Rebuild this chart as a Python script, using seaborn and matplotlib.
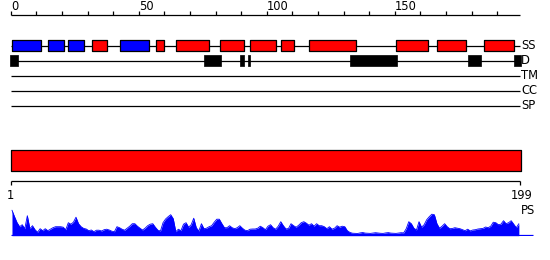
import numpy as np
import pandas as pd
import matplotlib
matplotlib.use("Agg")
import matplotlib.pyplot as plt
import seaborn as sns

# ---------------- data ----------------
seq_len = 199
ruler_ticks = list(range(0, 200, 10))
ruler_labels = {0: "0", 50: "50", 100: "100", 150: "150"}

# secondary structure boxes (positions on the ruler scale)
ss_start = [0.6, 14.7, 22.5, 31.9, 42.8, 56.9, 64.7, 81.9, 93.6, 105.7, 116.6, 150.6, 166.7, 185.0]
ss_end = [11.7, 20.7, 28.8, 37.7, 53.9, 59.8, 77.6, 91.0, 103.8, 110.8, 134.8, 162.9, 178.0, 196.7]
ss_kind = ["E", "E", "E", "H", "E", "H", "H", "H", "H", "H", "H", "H", "H", "H"]

# disorder boxes
dis_start = [-0.3, 75.5, 89.6, 92.6, 132.5, 178.6, 196.6]
dis_end = [2.7, 82.0, 91.0, 93.6, 150.8, 183.9, 199.2]

track_names = ["SS", "D", "TM", "CC", "SP"]

domain_start = [1]
domain_end = [199]

ps_values = [
    25.5, 19, 13, 9, 11, 7, 20, 7, 10, 6, 3.5, 7, 5, 7, 5, 6.5, 8, 9, 9, 9,
    8.5, 6, 13, 11.5, 13.5, 18.5, 12, 9, 7.3, 6.7, 5, 5.7, 4, 5.5, 5.5, 4.7, 6, 6.5, 5.7, 4.5,
    4, 9, 8, 6.5, 5.5, 7.5, 9.5, 12, 12, 9.5, 7.5, 5.7, 7.5, 10, 11.5, 12, 8.5, 5.5, 4.7, 13,
    16.7, 19, 21, 17, 4, 6.5, 5, 11.5, 13, 8.5, 11, 17.5, 8, 4.7, 12, 7, 7.5, 9, 10, 13.5,
    16.5, 16.5, 12, 8, 8, 10, 8, 7, 8, 10, 7.5, 5.5, 5, 6.5, 6.7, 6.7, 7.5, 9.5, 8, 6,
    9.5, 11, 8, 6.5, 9.5, 14, 10, 6.8, 7.2, 12, 10, 8.5, 10.5, 13, 14, 12.5, 10.5, 12, 9.5, 12,
    10, 10, 9, 7, 9, 6.5, 7.5, 10, 8.5, 9.5, 9, 5, 3.3,
    2.5, 2.3, 2.2, 2.8, 3.2, 2.6, 2.4, 2.3, 2.6, 3, 2.7, 2.4, 2.3, 2.8, 3.1, 2.6, 2.4, 2.3, 2.6, 3, 2.8,
    7, 14, 12, 7.5, 5.7, 14, 8.5, 11, 16, 19, 21.5, 21, 12, 7.5, 9.5, 12, 9, 7, 7.2, 8,
    7.5, 7, 6, 5, 6.5, 4.8, 5.7, 6, 6.7, 7, 7.3, 8.7, 8, 9.5, 13.5, 13, 11, 11.5, 15, 12,
    13, 15, 11.5, 8, 12,
]

# ---------------- style ----------------
sns.set_theme(style="white")
plt.rcParams["font.family"] = ["DejaVu Sans"]

W, H = 550, 260
BLUE, RED, BLACK = "#0000ff", "#ff0000", "black"
FS = 8.3
LW = 0.9

fig = plt.figure(figsize=(W / 100, H / 100), dpi=100)
fig.patch.set_facecolor("white")

px_per_unit = 2.56
x0_px = 10.7
xlim = (-x0_px / px_per_unit, (W - x0_px) / px_per_unit)

ax = fig.add_axes([0, 0, 1, 1])
ax.set_xlim(*xlim)
ax.set_ylim(H, 0)
ax.axis("off")

# top ruler
ax.plot([0, seq_len], [15, 15], color=BLACK, lw=LW, solid_capstyle="butt")
ax.vlines(ruler_ticks, 11, 15, color=BLACK, lw=LW)
for t, lab in ruler_labels.items():
    ax.text(t + 0.1, 10.3, lab, ha="left", va="baseline", fontsize=FS, color=BLACK)

# tracks
track_y = {"SS": 45.5, "D": 60.5, "TM": 75.5, "CC": 90.5, "SP": 105.5}
for name in track_names:
    y = track_y[name]
    ax.plot([0, seq_len], [y, y], color=BLACK, lw=LW, solid_capstyle="butt", zorder=1)
    ax.text(seq_len + 0.3, y, name, ha="left", va="center", fontsize=FS, color=BLACK)

ss_df = pd.DataFrame({"start": ss_start, "end": ss_end, "kind": ss_kind})
for kind, col in (("E", BLUE), ("H", RED)):
    sub = ss_df[ss_df.kind == kind]
    ax.broken_barh(list(zip(sub.start, sub.end - sub.start)), (40.3, 10.3),
                   facecolors=col, edgecolors=BLACK, linewidth=LW, zorder=2)

ax.broken_barh([(s, e - s) for s, e in zip(dis_start, dis_end)], (55.3, 10.4),
               facecolors=BLACK, edgecolors=BLACK, linewidth=0.5, zorder=2)

# domain bar
for s, e in zip(domain_start, domain_end):
    ax.broken_barh([(s - 1, e - s + 1.2)], (149.5, 21), facecolors=RED,
                   edgecolors=BLACK, linewidth=LW, zorder=2)
    ax.plot([s - 1, e], [181, 181], color=BLACK, lw=LW, solid_capstyle="butt")
    ax.vlines([s - 1, e], 181, 184.5, color=BLACK, lw=LW)
    ax.text(s - 1, 189, str(s), ha="center", va="top", fontsize=FS, color=BLACK)
    ax.text(e + 0.4, 189, str(e), ha="center", va="top", fontsize=FS, color=BLACK)

ax.text(seq_len + 0.4, 211, "PS", ha="left", va="center", fontsize=FS, color=BLACK)

# profile
base_px = 235.7
prof_h = 30
ax2 = fig.add_axes([0, (H - base_px) / H, 1, prof_h / H])
ax2.set_xlim(*xlim)
ax2.set_ylim(0, prof_h)
ax2.axis("off")
ax2.patch.set_alpha(0)

ps_df = pd.DataFrame({"pos": np.arange(1, len(ps_values) + 1) - 0.5, "score": ps_values})
ax2.fill_between(ps_df.pos, 0, ps_df.score, color=BLUE, lw=0)
sns.lineplot(data=ps_df, x="pos", y="score", ax=ax2, color=BLUE, lw=0.6)
ax2.hlines(0.3, 0, seq_len + 5, color=BLUE, lw=LW)
ax2.set_xlabel("")
ax2.set_ylabel("")

fig.savefig("out.png", dpi=100, facecolor="white")
